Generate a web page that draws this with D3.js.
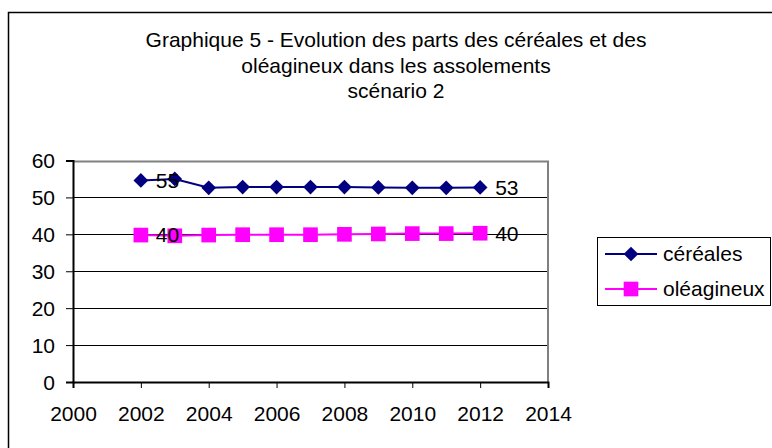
<!DOCTYPE html>
<html><head><meta charset="utf-8">
<script src="https://cdn.jsdelivr.net/npm/d3@7"></script>
<style>body{margin:0;background:#fff}svg{display:block}text{font-family:"Liberation Sans",Arial,sans-serif}</style>
</head><body><svg id="c" width="772" height="448"></svg>
<script>
const titleLines = ["Graphique 5 - Evolution des parts des céréales et des", "oléagineux dans les assolements", "scénario 2"];
const years = [2002, 2003, 2004, 2005, 2006, 2007, 2008, 2009, 2010, 2011, 2012];
const cereales = [54.6, 55.0, 52.6, 52.8, 52.8, 52.8, 52.8, 52.7, 52.6, 52.6, 52.7];
const oleagineux = [39.8, 39.6, 39.8, 39.9, 39.9, 39.9, 40.0, 40.1, 40.2, 40.2, 40.3];
const seriesNames = ["céréales", "oléagineux"];
const xTicks = [2000, 2002, 2004, 2006, 2008, 2010, 2012, 2014];
const yTicks = [0, 10, 20, 30, 40, 50, 60];
const labelledYears = [2002, 2012];

const FS = 21;
const svg = d3.select("#c");
svg.append("rect").attr("x", 8.5).attr("y", 12.5).attr("width", 800).attr("height", 460)
  .attr("fill", "#fff").attr("stroke", "#000").attr("stroke-width", 1.5);

const x = d3.scaleLinear().domain([2000, 2014]).range([73, 548]);
const y = d3.scaleLinear().domain([0, 60]).range([382, 160.5]);

// title
svg.append("g").selectAll("text").data(titleLines).join("text")
  .attr("x", 396).attr("y", (d, i) => 46.7 + i * 25.8).attr("text-anchor", "middle")
  .attr("font-size", FS).attr("fill", "#000").text(d => d);

// gridlines
svg.append("g").selectAll("line").data(yTicks.filter(v => v > 0 && v < 60)).join("line")
  .attr("x1", x(2000)).attr("x2", x(2014)).attr("y1", d => Math.round(y(d)) + 0.5).attr("y2", d => Math.round(y(d)) + 0.5)
  .attr("stroke", "#000").attr("stroke-width", 1);

// plot border top/right gray
svg.append("path").attr("d", `M${x(2000)},${Math.round(y(60)) + 0.5}H${x(2014)}V${y(0)}`)
  .attr("fill", "none").attr("stroke", "#808080").attr("stroke-width", 2);

// axes
const yAxis = d3.axisLeft(y).tickValues(yTicks).tickSize(7).tickPadding(11).tickFormat(d3.format("d"));
const gy = svg.append("g").attr("transform", `translate(${x(2000)},0)`).call(yAxis);
const xAxis = d3.axisBottom(x).tickValues(xTicks).tickSize(6).tickPadding(18).tickFormat(d3.format("d"));
const gx = svg.append("g").attr("transform", `translate(0,${y(0)})`).call(xAxis);
[gx, gy].forEach(g => {
  g.select(".domain").attr("stroke", "#000").attr("stroke-width", 2);
  g.selectAll(".tick line").attr("stroke", "#000");
  g.selectAll("text").attr("font-size", FS).attr("fill", "#000").attr("font-family", "Liberation Sans, Arial, sans-serif");
});
gy.selectAll("text").attr("dy", "0.35em");

const series = [
  {name: seriesNames[0], values: cereales, color: "#000080", shape: d3.symbolSquare, size: 108, rot: 45},
  {name: seriesNames[1], values: oleagineux, color: "#FF00FF", shape: d3.symbolSquare, size: 215, rot: 0}
];
const line = d3.line().x(d => x(d[0])).y(d => y(d[1]));

series.forEach(s => {
  const pts = years.map((yr, i) => [yr, s.values[i]]);
  svg.append("path").attr("d", line(pts)).attr("fill", "none").attr("stroke", s.color).attr("stroke-width", 2);
  svg.append("g").selectAll("path").data(pts).join("path")
    .attr("transform", d => `translate(${x(d[0])},${y(d[1])}) rotate(${s.rot})`)
    .attr("d", d3.symbol().type(s.shape).size(s.size)).attr("fill", s.color);
});
series.forEach(s => {
  const pts = years.map((yr, i) => [yr, s.values[i]]).filter(d => labelledYears.includes(d[0]));
  svg.append("g").selectAll("text").data(pts).join("text")
    .attr("x", d => x(d[0]) + 15).attr("y", d => y(d[1])).attr("dy", "0.35em")
    .attr("font-size", FS).attr("fill", "#000").text(d => Math.round(d[1]));
});

// legend
const lg = svg.append("g");
lg.append("rect").attr("x", 597.5).attr("y", 237.5).attr("width", 173).attr("height", 68)
  .attr("fill", "#fff").attr("stroke", "#000").attr("stroke-width", 1);
series.forEach((s, i) => {
  const cy = 254 + i * 35;
  lg.append("line").attr("x1", 605).attr("x2", 657).attr("y1", cy).attr("y2", cy).attr("stroke", s.color).attr("stroke-width", 2);
  lg.append("path").attr("transform", `translate(631,${cy}) rotate(${s.rot})`).attr("d", d3.symbol().type(s.shape).size(s.size)).attr("fill", s.color);
  lg.append("text").attr("x", 663).attr("y", cy).attr("dy", "0.35em").attr("font-size", FS).attr("fill", "#000").text(s.name);
});
</script></body></html>
